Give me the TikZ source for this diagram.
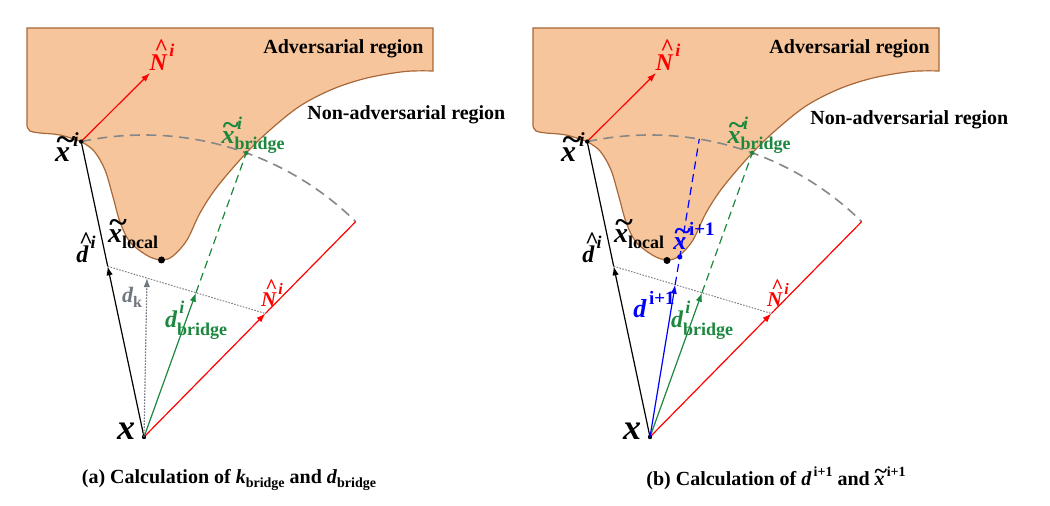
\documentclass[tikz,border=0pt]{standalone}
\usepackage{fontspec}
\usepackage{graphicx}
\setmainfont{Liberation Serif}
\usetikzlibrary{arrows.meta,calc}
\definecolor{regfill}{RGB}{247,197,155}
\definecolor{regedge}{RGB}{168,104,56}
\definecolor{arcgray}{RGB}{135,135,135}
\definecolor{grn}{RGB}{28,135,62}
\definecolor{dkgray}{RGB}{112,118,128}
\newcommand{\fs}[1]{\fontsize{#1}{#1}\selectfont}
\newcommand{\tildeof}[2][0.22em]{{\ooalign{#2\cr\hidewidth\kern#1\raisebox{0.36em}{\upshape\scalebox{1.2}[1.1]{\textasciitilde}}\hidewidth\cr}}}
\newcommand{\hatof}[3][0.26em]{{\ooalign{#3\cr\hidewidth\kern#1\raisebox{#2}{\upshape\textasciicircum}\hidewidth\cr}}}
\newcommand{\sps}[3][0.5em]{\kern0.1em\raisebox{#1}{\fs{#2}#3}}
\newcommand{\sbs}[3][-0.22em]{\raisebox{#1}{\fs{#2}\upshape #3}}
\tikzset{
  region/.style={fill=regfill, draw=regedge, line width=0.6pt},
  vec/.style={line width=0.6pt, -{Latex[length=4.5pt,width=3.2pt]}},
  plainline/.style={line width=0.6pt},
  arcline/.style={draw=arcgray, line width=0.8pt, dash pattern=on 5pt off 3.2pt},
  hyper/.style={draw=gray, line width=0.5pt, dash pattern=on 0.8pt off 0.7pt},
  dashvec/.style={line width=0.6pt, dash pattern=on 4pt off 2.5pt},
  dotpt/.style={circle, fill, inner sep=0pt, minimum size=#1},
  dotpt/.default=2.2pt,
  lbl/.style={inner sep=0pt},
}
\newcommand{\panel}[4]{%
  \coordinate (#1x) at (144,437);
  \coordinate (#1xt) at (81.2,141.6);
  \coordinate (#1br) at (246.3,152.9);
  \coordinate (#1re) at (355.7,221.6);
  \coordinate (#1A) at (107.7,266.3);
  \coordinate (#1B) at (265.4,313.5);
  \coordinate (#1Nt) at (150,73);
  \coordinate (#1G) at (intersection of #1A--#1B and #1x--#1br);
  \filldraw[region] (27,28) -- (433,28) -- (433,71)
    -- plot[smooth, tension=0.55] coordinates {(433,71) (405,71.5) (367,78) (333,89) (300,106) (270,130) (246.3,152.9) (217,187) (200,213) (187,240) (173,256) (162,260) (148,256) (130,242) (120,222) (113,197) (105,170) (94,151) (81.2,141.6)}
    -- plot[smooth, tension=0.6] coordinates {(81.2,141.6) (60,135) (40,133) (30,131) (27,126)} -- cycle;
  \draw[arcline] (#1xt) arc[start angle=-102, end angle=-45.5, radius=302];
  \draw[hyper] (#1A) -- (#1B);
  \draw[vec] (#1x) -- (#1A);
  \draw[plainline] (#1A) -- (#1xt);
  \draw[vec, red] (#1x) -- (#1B);
  \draw[plainline, red] (#1B) -- (#1re);
  \draw[vec, red] (#1xt) -- (#1Nt);
  \draw[vec, grn] (#1x) -- (#1G);
  \draw[dashvec, grn] (#1G) -- (#1br);
  \node[lbl, font=\fs{10}\bfseries, anchor=east] (#1adv) at (424,49) {Adversarial region};
  \node[lbl, font=\fs{10}\bfseries, anchor=west] (#1nadv) at (#3,#4) {Non-adversarial region};
  \node[lbl, red, font=\fs{12}\bfseries\itshape] (#1Nlab) at (162,57) {\hatof{0.64em}{N}\sps[0.6em]{9}{i}};
  \node[lbl, font=\fs{15}\bfseries\itshape] (#1xtlab) at (67,147) {\tildeof{x}\sps[0.5em]{10}{i}};
  \node[lbl, font=\fs{12}\bfseries\itshape] (#1dlab) at (86,249) {\hatof[0.32em]{0.6em}{d}\sps[0.6em]{9}{i}};
  \node[lbl, font=\fs{14}\bfseries\itshape] (#1loclab) at (133,239) {\tildeof{x}\sbs{9}{local}};
  \node[lbl, grn, font=\fs{13}\bfseries\itshape] (#1brlab) at (253,135) {\tildeof{x}\makebox[0pt][l]{\sps[0.55em]{9}{i}}\sbs{9}{bridge}};
  \node[lbl, grn, font=\fs{12}\bfseries\itshape] (#1dbrlab) at (196,320) {d\makebox[0pt][l]{\sps[0.6em]{9}{i}}\sbs[-0.3em]{9}{bridge}};
  \node[lbl, red, font=\fs{10.5}\bfseries\itshape] (#1Nlab2) at (272,295) {\hatof{0.64em}{N}\sps[0.6em]{8}{i}};
  \node[lbl, font=\fs{18}\bfseries\itshape] (#1xlab) at (126,431) {x};
  \node[dotpt=3.5pt, inner sep=0pt] (#1locdot) at (#2) {};
  \node[dotpt] (#1xdot) at (#1x) {};
  \node[dotpt] (#1xtdot) at (#1xt) {};
  \node[dotpt, grn] (#1brdot) at (#1br) {};
}
\begin{document}
\begin{tikzpicture}[x=0.5pt, y=-0.5pt]
\useasboundingbox (0,0) rectangle (1050,506);
% panel (a)
\begin{scope}
  \panel{a}{161.5,260}{307}{115}
  \coordinate (aKe) at (147.5,250);
  \coordinate (aK) at (intersection of aA--aB and ax--aKe);
  \draw[vec, dkgray, dash pattern=on 0.8pt off 0.7pt] (ax) -- (aK);
  \node[lbl, dkgray, font=\fs{11}\bfseries\itshape] (adk) at (132,297) {d\sbs{8}{k}};
\end{scope}
% panel (b)
\begin{scope}[shift={(506,0)}]
  \panel{b}{161,260.5}{304}{120}
  \coordinate (bE) at (193.3,138.9);
  \coordinate (bT) at (intersection of bA--bB and bx--bE);
  \coordinate (bD) at ($(bx)!0.604!(bE)$);
  \draw[vec, blue] (bx) -- (bT);
  \draw[dashvec, blue] (bT) -- (bE);
  \node[dotpt=2.6pt, blue] (bdot) at (bD) {};
  \node[lbl, blue, font=\fs{13}\bfseries\itshape] (bxnlab) at (188,236) {\tildeof{x}\sps[0.55em]{9.5}{\upshape i+1}};
  \node[lbl, blue, font=\fs{13}\bfseries\itshape] (bdnlab) at (148,305) {d\sps[0.5em]{9.5}{\upshape i+1}};
\end{scope}
% captions
\node[lbl, font=\fs{10}\bfseries] (capa) at (229,480) {(a) Calculation of \textit{k}\sbs{7}{bridge} and \textit{d}\sbs{7}{bridge}};
\node[lbl, font=\fs{10}\bfseries] (capb) at (776,478) {(b) Calculation of \textit{d}\sps[0.45em]{7}{i+1} and \textit{\tildeof[0.1em]{x}}\sps[0.45em]{7}{i+1}};
\end{tikzpicture}
\end{document}
